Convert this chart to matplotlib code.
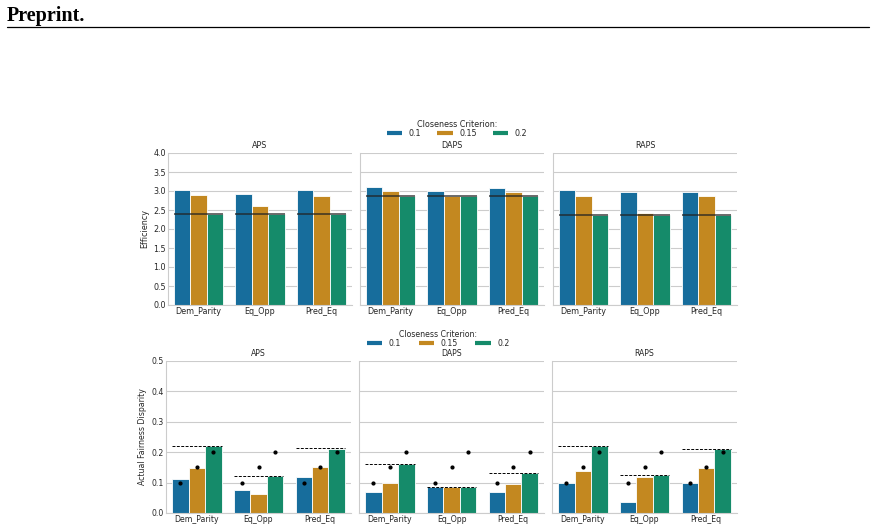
import numpy as np
import pandas as pd
import matplotlib
matplotlib.use("Agg")
import matplotlib.pyplot as plt
from matplotlib.lines import Line2D
import seaborn as sns

methods = ["APS", "DAPS", "RAPS"]
metrics = ["Dem_Parity", "Eq_Opp", "Pred_Eq"]
criteria = ["0.1", "0.15", "0.2"]
criteria_vals = [0.1, 0.15, 0.2]

# efficiency, rows = metric, cols = closeness criterion
eff_aps = [[3.03, 2.89, 2.40], [2.92, 2.60, 2.40], [3.02, 2.87, 2.40]]
eff_daps = [[3.10, 3.00, 2.87], [3.00, 2.87, 2.87], [3.08, 2.97, 2.87]]
eff_raps = [[3.02, 2.87, 2.36], [2.97, 2.41, 2.36], [2.97, 2.86, 2.36]]
eff_ref = [2.40, 2.87, 2.36]

# actual fairness disparity
disp_aps = [[0.113, 0.147, 0.221], [0.075, 0.064, 0.123], [0.119, 0.152, 0.212]]
disp_daps = [[0.068, 0.098, 0.160], [0.085, 0.085, 0.086], [0.068, 0.094, 0.132]]
disp_raps = [[0.099, 0.139, 0.220], [0.036, 0.119, 0.124], [0.100, 0.147, 0.209]]
disp_ref_aps = [0.222, 0.123, 0.213]
disp_ref_daps = [0.160, 0.087, 0.132]
disp_ref_raps = [0.222, 0.125, 0.210]

sns.set_theme(style="whitegrid")
plt.rcParams['font.family'] = ['DejaVu Sans']
plt.rcParams['axes.edgecolor'] = '.8'
plt.rcParams['grid.linewidth'] = 0.8

W, H = 876, 532
fig = plt.figure(figsize=(W / 100, H / 100), dpi=100)

base_pal = sns.color_palette("colorblind", 3)
# barplot desaturates by 0.75, do the same for the legend handles
pal = [sns.desaturate(c, 0.75) for c in base_pal]


def px_axes(left, top, width, height):
    return fig.add_axes([left / W, 1 - (top + height) / H, width / W, height / H])


def long_df(vals):
    rows = []
    for i, m in enumerate(metrics):
        for j, c in enumerate(criteria):
            rows.append((m, c, vals[i][j]))
    return pd.DataFrame(rows, columns=["metric", "criterion", "value"])


def draw_panel(ax, vals, fs):
    sns.barplot(data=long_df(vals), x="metric", y="value", hue="criterion",
                order=metrics, hue_order=criteria, palette=base_pal, errorbar=None,
                edgecolor="white", linewidth=0.6, legend=False, ax=ax)
    ax.set_xlabel("")
    ax.set_ylabel("")
    ax.tick_params(axis='both', labelsize=fs, pad=1.5, length=0, colors='.15')
    ax.set_xlim(-0.5, 2.5)
    for s in ["top", "right"]:
        ax.spines[s].set_visible(False)
    ax.spines["left"].set_linewidth(0.8)
    ax.spines["bottom"].set_linewidth(0.8)


# top row: efficiency
top_lefts = [168, 360, 553]
eff_sets = [eff_aps, eff_daps, eff_raps]
for k in range(3):
    ax = px_axes(top_lefts[k], 153, 184, 152)
    draw_panel(ax, eff_sets[k], 5.8)
    ax.set_ylim(0, 4.0)
    ax.set_yticks(np.arange(0, 4.01, 0.5))
    for i in range(3):
        ax.plot([i - 0.4, i + 0.4], [eff_ref[k], eff_ref[k]], color='#222222',
                lw=1.1, alpha=0.85, solid_capstyle='butt', zorder=5)
    ax.set_title(methods[k], fontsize=5.8, pad=3.5, color='.15')
    if k == 0:
        ax.set_ylabel("Efficiency", fontsize=5.8, labelpad=3, color='.15')
    else:
        ax.set_yticklabels([])

# bottom row: fairness disparity
bot_lefts = [166, 359, 552]
disp_sets = [disp_aps, disp_daps, disp_raps]
ref_sets = [disp_ref_aps, disp_ref_daps, disp_ref_raps]
offsets = [-0.8 / 3, 0.0, 0.8 / 3]
for k in range(3):
    ax = px_axes(bot_lefts[k], 361, 185, 152)
    draw_panel(ax, disp_sets[k], 5.6)
    ax.set_ylim(0, 0.5)
    ax.set_yticks(np.arange(0, 0.51, 0.1))
    for i in range(3):
        ref = ref_sets[k][i]
        ax.plot([i - 0.4, i + 0.4], [ref, ref], color='black', lw=0.7,
                linestyle=(0, (3, 1.5)), zorder=5)
        ax.plot([i + o for o in offsets], criteria_vals, 'o', color='black',
                ms=2.0, zorder=6)
    ax.set_title(methods[k], fontsize=5.6, pad=3.5, color='.15')
    if k == 0:
        ax.set_ylabel("Actual Fairness Disparity", fontsize=5.6, labelpad=3, color='.15')
    else:
        ax.set_yticklabels([])

# legends
handles = [Line2D([0], [0], color=pal[j], lw=3, solid_capstyle='butt') for j in range(3)]
leg1 = fig.legend(handles, criteria, title="Closeness Criterion:", ncol=3,
                  loc="center", bbox_to_anchor=(457 / W, 1 - 129 / H), frameon=False,
                  fontsize=5.8, title_fontsize=5.8, handlelength=1.9,
                  handletextpad=0.8, columnspacing=2.0, borderpad=0, labelspacing=0)
leg2 = fig.legend(handles, criteria, title="Closeness Criterion:", ncol=3,
                  loc="center", bbox_to_anchor=(438 / W, 1 - 339 / H), frameon=False,
                  fontsize=5.6, title_fontsize=5.6, handlelength=2.0,
                  handletextpad=0.8, columnspacing=2.3, borderpad=0, labelspacing=0)
for leg in (leg1, leg2):
    for t in leg.get_texts():
        t.set_color('.15')
    leg.get_title().set_color('.15')

# page header
fig.text(7 / W, 1 - 20.5 / H, "Preprint.", fontfamily="Liberation Serif",
         fontweight="bold", fontsize=14.5, va="baseline", ha="left", color="black")
fig.add_artist(Line2D([7 / W, 869 / W], [1 - 27 / H, 1 - 27 / H], color="black", lw=0.9))

fig.savefig("out.png", dpi=100)
